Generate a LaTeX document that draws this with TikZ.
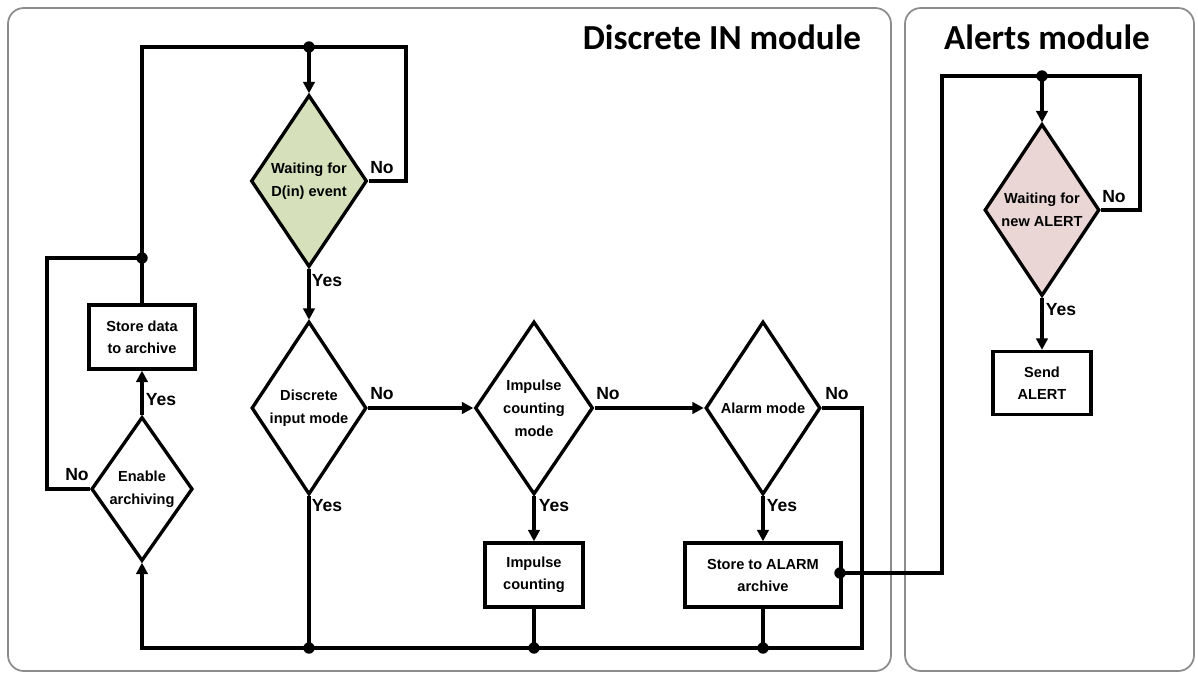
\documentclass[tikz,border=0pt]{standalone}
\usepackage{fontspec}
\usetikzlibrary{shapes.geometric,arrows.meta}
\newfontfamily\ttlfont{Carlito}
\newfontfamily\arfont{Liberation Sans}
\definecolor{waitgreen}{RGB}{214,225,188}
\definecolor{alertpink}{RGB}{234,214,212}
\definecolor{panelgray}{RGB}{140,140,140}
\newcommand\pxu{0.02cm}
\tikzset{
  flow/.style={line width=1.9pt, line join=miter},
  arr/.style={flow, -{Triangle[length=6.5pt,width=6.5pt]}},
  dec/.style={diamond, draw, line width=1.9pt, fill=white, inner sep=0pt,
      align=center, font=\arfont\bfseries\fontsize{8.3}{13}\selectfont},
  proc/.style={rectangle, draw, line width=1.9pt, fill=white, inner sep=0pt,
      align=center, font=\arfont\bfseries\fontsize{8.3}{12.5}\selectfont},
  lbl/.style={font=\arfont\bfseries\fontsize{10}{12}\selectfont, inner sep=0pt},
  jdot/.style={circle, fill=black, inner sep=0pt, minimum size=6.5pt},
  panel/.style={draw=panelgray, line width=1pt, rounded corners=9pt},
  ttl/.style={font=\ttlfont\bfseries\fontsize{20}{24}\selectfont, anchor=base, inner sep=0pt}
}
\begin{document}
\begin{tikzpicture}[x=0.02cm, y=-0.02cm]
\useasboundingbox (0,0) rectangle (1198,673);
% panels
\draw[panel] (8,8) rectangle (891,671);
\draw[panel] (905,8) rectangle (1194,671);
\node[ttl] (ttl1) at (722,49) {Discrete IN module};
\node[ttl] (ttl2) at (1047,49) {Alerts module};

% decisions
\node[dec, fill=waitgreen, minimum width=116*\pxu, minimum height=172*\pxu] (w1) at (309,181) {Waiting for\\D(in) event};
\node[dec, minimum width=115*\pxu, minimum height=173*\pxu] (di) at (309,408) {Discrete\\input mode};
\node[dec, minimum width=115*\pxu, minimum height=173*\pxu] (im) at (534,408) {Impulse\\counting\\mode};
\node[dec, minimum width=115*\pxu, minimum height=173*\pxu] (al) at (763,408) {Alarm mode};
\node[dec, minimum width=95*\pxu, minimum height=144*\pxu] (ea) at (142,489) {Enable\\archiving};
\node[dec, fill=alertpink, minimum width=115*\pxu, minimum height=172*\pxu] (aw) at (1042,210) {Waiting for\\new ALERT};

% processes
\node[proc, minimum width=106*\pxu, minimum height=64*\pxu] (sd) at (142,337) {Store data\\to archive};
\node[proc, minimum width=98*\pxu, minimum height=64*\pxu] (ic) at (534,575) {Impulse\\counting};
\node[proc, minimum width=156*\pxu, minimum height=64*\pxu] (sa) at (763,575) {Store to ALARM\\archive};
\node[proc, minimum width=98*\pxu, minimum height=63*\pxu] (se) at (1042,383) {Send\\ALERT};

% junctions and corners
\node[jdot] (t1) at (309,47) {};
\node[jdot] (j2) at (142,258) {};
\node[jdot] (b1) at (309,648) {};
\node[jdot] (b2) at (534,648) {};
\node[jdot] (b3) at (763,648) {};
\node[jdot] (j4) at (840,573) {};
\node[jdot] (t2) at (1042,76) {};
\coordinate (nr) at (406,47);
\coordinate (tl) at (142,47);
\coordinate (ll) at (47,258);
\coordinate (br) at (862,648);
\coordinate (bl) at (142,648);
\coordinate (ac) at (942,76);
\coordinate (anr) at (1140,76);

% connectors: Discrete IN module
\draw[arr] (t1.center) -- (w1.north);
\draw[flow] (w1.east) -| (nr) -- (t1.center);
\draw[flow] (t1.center) -- (tl) -- (j2.center) -- (sd.north);
\draw[flow] (j2.center) -- (ll) |- (ea.west);
\draw[arr] (ea.north) -- (sd.south);
\draw[arr] (w1.south) -- (di.north);
\draw[arr] (di.east) -- (im.west);
\draw[arr] (im.east) -- (al.west);
\draw[arr] (im.south) -- (ic.north);
\draw[arr] (al.south) -- (sa.north);
\draw[arr] (al.east) -| (br) -- (bl) -- (ea.south);
\draw[flow] (di.south) -- (b1.center);
\draw[flow] (ic.south) -- (b2.center);
\draw[flow] (sa.south) -- (b3.center);

% connectors: Alerts module
\draw[flow] (j4.center) -| (ac) -- (t2.center);
\draw[arr] (t2.center) -- (aw.north);
\draw[flow] (aw.east) -| (anr) -- (t2.center);
\draw[arr] (aw.south) -- (se.north);

% labels
\node[lbl] (l1) at (382,168) {No};
\node[lbl] (l2) at (327,281) {Yes};
\node[lbl] (l3) at (161,400) {Yes};
\node[lbl] (l4) at (77,475) {No};
\node[lbl] (l5) at (382,394) {No};
\node[lbl] (l6) at (327,506) {Yes};
\node[lbl] (l7) at (608,394) {No};
\node[lbl] (l8) at (554,506) {Yes};
\node[lbl] (l9) at (837,394) {No};
\node[lbl] (l10) at (782,506) {Yes};
\node[lbl] (l11) at (1114,197) {No};
\node[lbl] (l12) at (1061,310) {Yes};
\end{tikzpicture}
\end{document}
